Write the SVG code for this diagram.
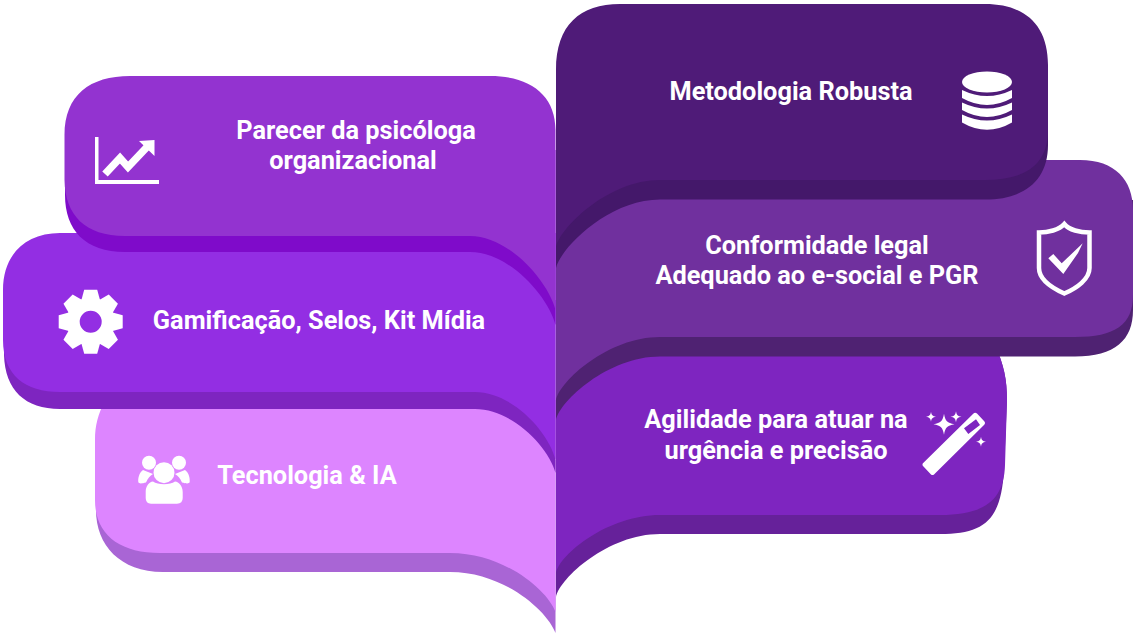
<svg xmlns="http://www.w3.org/2000/svg" width="1134" height="633" viewBox="0 0 1134 633">
<style>
text{font-family:Roboto,"Liberation Sans",sans-serif;font-weight:700;font-size:25.33px;fill:#fff;text-anchor:middle}
.w{fill:#fff}
</style>
<defs>
<polygon id="tooth" class="w" points="-6.5,-32 6.5,-32 9.5,-21 -9.5,-21"/>
<path id="star" class="w" d="M0 -1C.12 -.3 .3 -.12 1 0C.3 .12 .12 .3 0 1C-.12 .3 -.3 .12 -1 0C-.3 -.12 -.12 -.3 0 -1Z"/>
</defs>
<rect width="1134" height="633" fill="#fff"/>
<g id="card-agilidade">
<path fill="#66219a" d="M556 597C560 578 608 534 660 534H940C985 534 1001 520 1004 470L1007 400C1007 380 1004 365 995 345L556 345Z"/>
<path fill="#7e25c0" d="M556 573C560 554 608 515 660 515H940C985 515 1004 500 1005 465L1007 400C1007 380 1004 365 995 345L556 345Z"/>
<text x="776" y="428">Agilidade para atuar na</text>
<text x="776" y="459">urgência e precisão</text>
<g>
<path class="w" fill-rule="evenodd" d="M922.7 463.5Q922 465 923 466L931 474.5Q932.500 475.500 934 474.500L984 425Q986 423 984 421L977 413.500Q975 412 973.500 413.500ZM964 428.300L976 419.300L980 425L968.300 434Z"/>
<use href="#star" transform="translate(944 424.300) scale(10.500)"/>
<use href="#star" transform="translate(931 416.700) scale(5)"/>
<use href="#star" transform="translate(956 416.700) scale(5.500)"/>
<use href="#star" transform="translate(981 441.700) scale(5)"/>
</g>
</g>
<g id="card-conformidade">
<path fill="#4f2272" d="M556 420C560 401 608 356.500 660 356.500H1075C1115 356.500 1133 340 1133 310V200H556Z"/>
<path fill="#70309e" d="M556 400C560 381 608 337 660 337H1075C1115 337 1133 325 1133 295V210C1133 180 1115 160 1080 160H556Z"/>
<text x="817" y="254">Conformidade legal</text>
<text x="817" y="284">Adequado ao e-social e PGR</text>
<g>
<path fill="none" stroke="#fff" stroke-width="4.500" d="M1064.300 224C1059 230 1048 232.500 1039 232.500V268C1039 279 1052 288 1064.300 293.500C1077 288 1089.500 279 1089.500 268V232.500C1080 232.500 1069 230 1064.300 224Z"/>
<polygon class="w" points="1048.300,258.300 1053.300,254 1061.700,263.300 1082.700,243.300 1078,253 1063.300,274"/>
</g>
</g>
<g id="card-metodologia">
<path fill="#44186a" d="M556 268C560 249 608 199.500 660 199.500H985C1025 199.500 1048 180 1048 145V100H556Z"/>
<path fill="#4f1b78" d="M556 247C560 228 608 180 660 180H985C1025 180 1048 165 1048 130V65C1048 25 1025 4 985 4H620C580 4 556 25 556 70Z"/>
<text x="791" y="100">Metodologia Robusta</text>
<g>
<ellipse class="w" cx="987" cy="82" rx="25" ry="10.500"/>
<path class="w" d="M962 90Q987 102 1012 90V98Q987 112 962 98Z"/>
<path class="w" d="M962 102.500Q987 114.500 1012 102.500V110Q987 124 962 110Z"/>
<path class="w" d="M962 114.500Q987 126.500 1012 114.500V122.500Q987 137 962 122.500Z"/>
</g>
</g>
<g id="card-tecnologia">
<path fill="#a965d5" d="M555.500 633C548 612 505 572 450 572H163C120 572 96 545 96 510V460H555.500Z"/>
<path fill="#dd85ff" d="M555.500 612C548 591 505 553 450 553H160C120 553 95 535 95 500V440C95 425 98 415 105 400H555.500Z"/>
<text x="307" y="483.500">Tecnologia &amp; IA</text>
<g>
<circle class="w" cx="149" cy="462.700" r="7"/>
<circle class="w" cx="179" cy="462.700" r="7"/>
<path class="w" d="M143 470C139 473 138 478 138.300 482C139 484 142 483.500 146 482.500C148 478 150 476 153 474Z"/>
<path class="w" d="M185 470C189 473 190 478 189.700 482C189 484 186 483.500 182 482.500C180 478 178 476 175 474Z"/>
<path class="w" d="M145.700 498V492C145.700 486 149 482 153 481.500C158 485 170 485 175 481.500C179 482 182.700 486 182.700 492V498Q182.700 503.700 177 503.700H151Q145.700 503.700 145.700 498Z"/>
<circle class="w" cx="164" cy="472.700" r="10.500"/>
</g>
</g>
<g id="card-gamificacao">
<path fill="#7e25c0" d="M555.500 473C549 447 512 409 475 409H60C25 409 5 390 4 355V300H555.500Z"/>
<path fill="#932ee3" d="M555.500 460C549 432 512 392 475 392H60C25 392 3 375 3 340V290C3 255 25 233 60 233H555.500Z"/>
<text x="319" y="329">Gamificação, Selos, Kit Mídia</text>
<g transform="translate(90.700 321.700)">
<circle cx="0" cy="0" r="17.500" fill="none" stroke="#fff" stroke-width="13"/>
<use href="#tooth"/>
<use href="#tooth" transform="rotate(45)"/>
<use href="#tooth" transform="rotate(90)"/>
<use href="#tooth" transform="rotate(135)"/>
<use href="#tooth" transform="rotate(180)"/>
<use href="#tooth" transform="rotate(225)"/>
<use href="#tooth" transform="rotate(270)"/>
<use href="#tooth" transform="rotate(315)"/>
</g>
</g>
<g id="card-parecer">
<path fill="#7f0bca" d="M555.500 325C549 298 510 252 470 252H125C85 252 65 230 65 195V150H555.500Z"/>
<path fill="#9333d0" d="M555.500 310C549 283 510 236 470 236H125C85 236 65 215 64.500 180V135C64.500 95 90 76 130 76H490C530 76 555.500 95 555.500 130Z"/>
<text x="356" y="139">Parecer da psicóloga</text>
<text x="353" y="169">organizacional</text>
<g>
<path class="w" d="M95 137H98.500V180H159V184H95Z"/>
<polyline points="105,174 120,158 128,167 147,147" fill="none" stroke="#fff" stroke-width="7.500"/>
<polygon class="w" points="139,141 154.500,140 154.500,156"/>
</g>
</g>
<g id="connectors"></g>
</svg>
